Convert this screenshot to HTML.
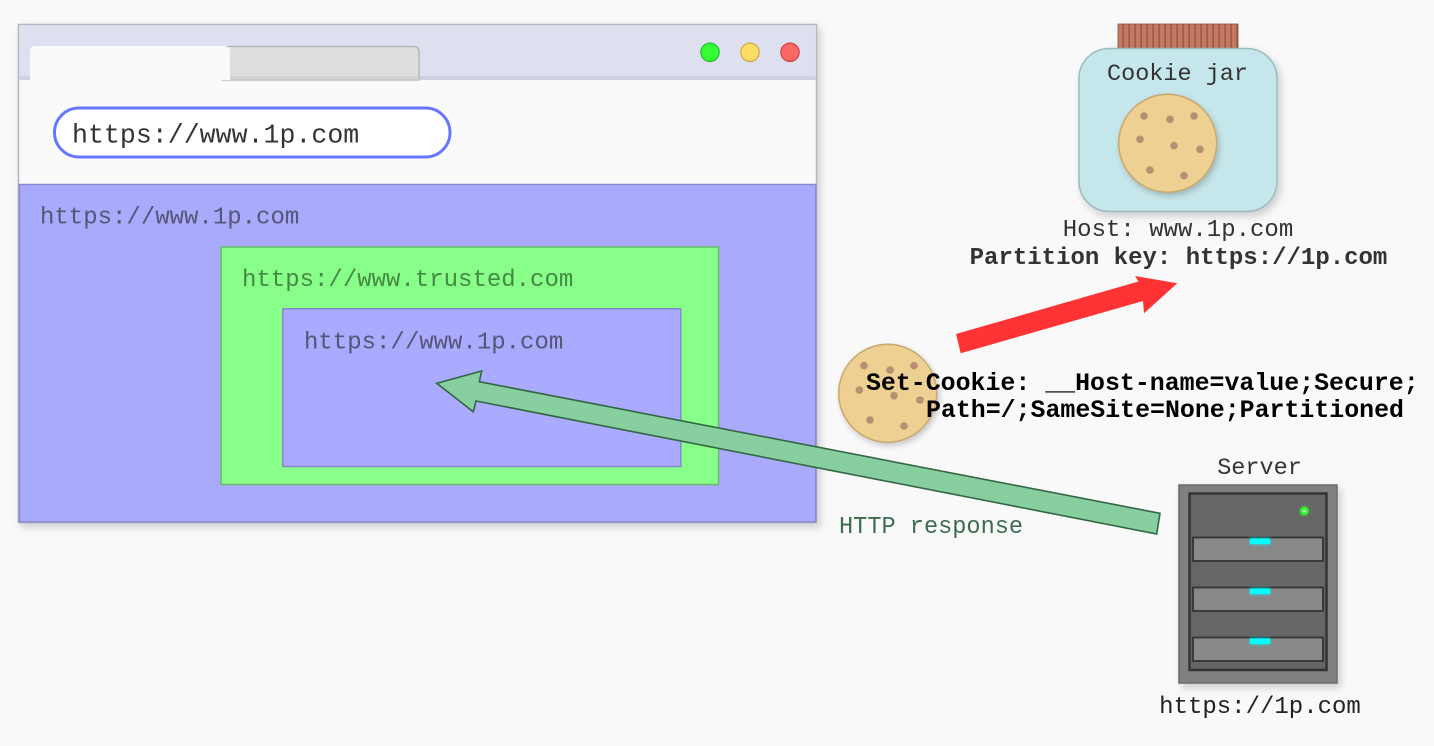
<!DOCTYPE html>
<html><head><meta charset="utf-8"><style>
html,body{margin:0;padding:0;background:#f9f9f9;}
svg{display:block;}
text{font-family:"Liberation Mono","DejaVu Sans Mono",monospace;}
</style></head><body>
<svg width="1434" height="746" viewBox="0 0 1434 746" xmlns="http://www.w3.org/2000/svg">
<defs>
<filter id="sh" x="-20%" y="-20%" width="140%" height="140%">
<feDropShadow dx="3" dy="4" stdDeviation="4" flood-color="#000" flood-opacity="0.18"/>
</filter>
<filter id="sh2" x="-30%" y="-30%" width="160%" height="160%">
<feDropShadow dx="2" dy="3" stdDeviation="3" flood-color="#000" flood-opacity="0.2"/>
</filter>
<filter id="glow" x="-200%" y="-200%" width="500%" height="500%">
<feGaussianBlur stdDeviation="1.5" result="b"/>
<feMerge><feMergeNode in="b"/><feMergeNode in="SourceGraphic"/></feMerge>
</filter>
<pattern id="lid" x="1118" y="0" width="6" height="10" patternUnits="userSpaceOnUse">
<rect width="6" height="10" fill="#c47a62"/>
<rect x="4.5" width="1.2" height="10" fill="#8c4e3c"/>
</pattern>
</defs>
<rect width="1434" height="746" fill="#f9f9f9"/>

<!-- Browser -->
<g filter="url(#sh)">
<rect x="18.5" y="24.5" width="798" height="498" fill="#fafafa" stroke="#b4b4c4" stroke-width="1.5"/>
</g>
<rect x="19.5" y="25.5" width="796" height="51" fill="#dfe0ef"/>
<rect x="19.5" y="76" width="796" height="4" fill="#d0d1e0"/>
<!-- inactive tab -->
<path d="M222,80 L222,52 Q222,46.5 228,46.5 L413,46.5 Q419,46.5 419,52 L419,80 Z" fill="#dedede" stroke="#b0b0b0" stroke-width="1.2"/>
<rect x="222" y="76" width="197" height="4" fill="#d0d0d0" opacity="0.7"/>
<!-- active tab -->
<path d="M30,80 L30,52 Q30,46 36,46 L224,46 Q230,46 230,52 L230,80 Z" fill="#fafafa"/>
<!-- traffic lights -->
<circle cx="710" cy="52.3" r="9.2" fill="#33ff33" stroke="#22bb33" stroke-width="1.2"/>
<circle cx="750" cy="52.3" r="9.2" fill="#ffdd66" stroke="#ccaa44" stroke-width="1.2"/>
<circle cx="790" cy="52.3" r="9.2" fill="#ff6666" stroke="#cc4444" stroke-width="1.2"/>
<!-- address bar -->
<rect x="54.5" y="108" width="395.5" height="49" rx="24.5" fill="#ffffff" stroke="#6677ff" stroke-width="3"/>
<text x="72" y="142.5" font-size="26.6" fill="#333333">https://www.1p.com</text>

<!-- blue content -->
<rect x="19.3" y="184.5" width="796.5" height="337.5" fill="#aaaafc" stroke="#8888cc" stroke-width="1.5"/>
<text x="40" y="223.3" font-size="24" fill="#555577">https://www.1p.com</text>

<!-- green iframe -->
<rect x="221" y="247" width="497.5" height="237.5" fill="#88ff88" stroke="#66bb66" stroke-width="1.5"/>
<text x="242" y="286" font-size="24" fill="#448844">https://www.trusted.com</text>

<!-- inner blue iframe -->
<rect x="282.8" y="308.8" width="398" height="157.7" fill="#aaaaff" stroke="#8888cc" stroke-width="1.5"/>
<text x="304" y="348.3" font-size="24" fill="#555577">https://www.1p.com</text>

<!-- green arrow -->
<polygon points="1160,513.3 479.3,381.7 481.7,371 436.7,383.3 473.3,411.7 476,401 1156.7,534" fill="#88cfa0" stroke="#336644" stroke-width="1.6" stroke-linejoin="miter"/>
<text x="839" y="533" font-size="23.6" fill="#3d6b50">HTTP response</text>

<!-- Cookie jar -->
<rect x="1118" y="24" width="120" height="24.5" fill="url(#lid)" stroke="#8a5040" stroke-width="0.8"/>
<g filter="url(#sh)">
<rect x="1079" y="48.5" width="198" height="163" rx="30" fill="#c5e6ea" stroke="#9bbcbe" stroke-width="1.5"/>
</g>
<text x="1177.5" y="80" font-size="23.5" fill="#333333" text-anchor="middle">Cookie jar</text>
<g filter="url(#sh2)">
<circle cx="1167.7" cy="143.3" r="49" fill="#eed092" stroke="#c8a870" stroke-width="1.5"/>
</g>
<g fill="#b88f72">
<circle cx="1144" cy="116" r="3.8"/><circle cx="1170" cy="119.3" r="3.8"/><circle cx="1194" cy="116" r="3.8"/>
<circle cx="1140" cy="139.3" r="3.8"/><circle cx="1174" cy="145.7" r="3.8"/><circle cx="1200" cy="149.3" r="3.8"/>
<circle cx="1150" cy="170" r="3.8"/><circle cx="1184" cy="175.7" r="3.8"/>
</g>
<text x="1178" y="236" font-size="24" fill="#333333" text-anchor="middle">Host: www.1p.com</text>
<text x="1178.5" y="264" font-size="24" font-weight="bold" fill="#333333" text-anchor="middle">Partition key: https://1p.com</text>

<!-- red arrow -->
<polygon points="956,334 1138.5,281.5 1135,276 1177.3,283.3 1144,313.3 1143,301 960.7,353.3" fill="#ff3333"/>

<!-- cookie near server -->
<g filter="url(#sh2)">
<circle cx="887.7" cy="393.3" r="49" fill="#eed092" stroke="#c8a870" stroke-width="1.5"/>
</g>
<g fill="#b88f72">
<circle cx="864" cy="365.7" r="3.8"/><circle cx="890" cy="370" r="3.8"/><circle cx="914" cy="365.7" r="3.8"/>
<circle cx="859.3" cy="390" r="3.8"/><circle cx="894" cy="395.7" r="3.8"/><circle cx="920" cy="400" r="3.8"/>
<circle cx="870" cy="420" r="3.8"/><circle cx="904" cy="426" r="3.8"/>
</g>
<g style="paint-order:stroke" stroke="#f3e6c8" stroke-width="0" >
<text x="866" y="390" font-size="24.9" font-weight="bold" fill="#000000">Set-Cookie: __Host-name=value;Secure;</text>
<text x="926" y="417" font-size="24.9" font-weight="bold" fill="#000000">Path=/;SameSite=None;Partitioned</text>
</g>

<!-- Server -->
<text x="1259.5" y="474" font-size="23.5" fill="#333333" text-anchor="middle">Server</text>
<g filter="url(#sh)">
<rect x="1179" y="485" width="158" height="198" fill="#808080" stroke="#6a6a6a" stroke-width="1.5"/>
</g>
<rect x="1189.5" y="493.5" width="137" height="176.5" fill="#666666" stroke="#333333" stroke-width="2.5"/>
<circle cx="1304.3" cy="511" r="4" fill="#33ff33" filter="url(#glow)"/>
<circle cx="1304.3" cy="511" r="1.3" fill="#eaffea"/>
<rect x="1193" y="537.5" width="130" height="23.5" fill="#888888" stroke="#333333" stroke-width="1.8"/>
<rect x="1193" y="587.5" width="130" height="23.5" fill="#888888" stroke="#333333" stroke-width="1.8"/>
<rect x="1193" y="637.5" width="130" height="23.5" fill="#888888" stroke="#333333" stroke-width="1.8"/>
<rect x="1250" y="538.5" width="20" height="5.5" fill="#00ffff" filter="url(#glow)"/>
<rect x="1250" y="588.5" width="20" height="5.5" fill="#00ffff" filter="url(#glow)"/>
<rect x="1250" y="638.5" width="20" height="5.5" fill="#00ffff" filter="url(#glow)"/>
<text x="1260" y="713" font-size="24" fill="#222222" text-anchor="middle">https://1p.com</text>
</svg>
</body></html>
